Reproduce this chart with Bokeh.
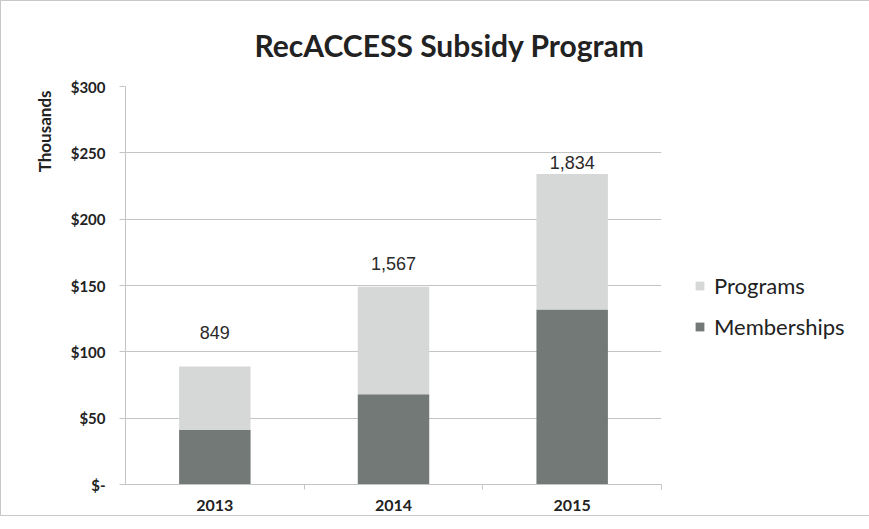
from bokeh.plotting import figure
from bokeh.models import (ColumnDataSource, FactorRange, FixedTicker, Legend, LegendItem,
                          Title, Range1d, LinearAxis, CategoricalAxis)
from bokeh.embed import file_html
from bokeh.resources import INLINE
from bokeh.core.properties import value

# ---- data (values in thousands of dollars) ----
years = ["2013", "2014", "2015"]
memberships = [41, 68, 132]
programs = [48, 81, 102]
participants = ["849", "1,567", "1,834"]
y_ticks = [0, 50, 100, 150, 200, 250, 300]
y_tick_labels = ["$-", "$50", "$100", "$150", "$200", "$250", "$300"]

# layout-only constants
label_offsets_px = [-34, -23, -12]

CAL = "Lato"
MEM_COLOR = "#737977"
PRO_COLOR = "#d6d8d7"
GRID = "#c4c4c4"

totals = [m + p for m, p in zip(memberships, programs)]
src = ColumnDataSource(dict(years=years, Memberships=memberships, Programs=programs,
                            total=totals, lbl=participants, yoff=label_offsets_px))

p = figure(frame_width=536, frame_height=398, x_range=FactorRange(*years), y_range=Range1d(0, 300),
           output_backend="svg", toolbar_location=None, x_axis_location=None,
           min_border_left=124, min_border_right=193, min_border_top=84, min_border_bottom=31)
p.styles = {"border": "1px solid #c8c8c8", "box-sizing": "border-box"}

rs = p.vbar_stack(["Memberships", "Programs"], x="years", width=0.40, source=src,
                  color=[MEM_COLOR, PRO_COLOR], line_color=None)

p.text(x="years", y="total", text="lbl", source=src, y_offset="yoff",
       text_align="center", text_baseline="middle", text_font=value("Liberation Sans"),
       text_font_size="18px", text_color="#2a2a2a")

# invisible spacer renderer for legend vertical placement
spacer = p.scatter(x=[], y=[], size=0, fill_alpha=0, line_alpha=0)

# title
p.title.text = "RecACCESS Subsidy Program"
p.title.align = "left"
p.title.offset = 129
p.title.text_font = CAL
p.title.text_font_size = "30px"
p.title.text_font_style = "bold"
p.title.text_color = "#222222"
p.title.standoff = 47

# y axis
p.yaxis.ticker = FixedTicker(ticks=y_ticks)
p.yaxis.major_label_overrides = {t: l for t, l in zip(y_ticks, y_tick_labels)}
p.yaxis.major_label_text_font = CAL
p.yaxis.major_label_text_font_size = "15px"
p.yaxis.major_label_text_font_style = "bold"
p.yaxis.major_label_text_color = "#222222"
p.yaxis.axis_line_color = GRID
p.yaxis.major_tick_line_color = GRID
p.yaxis.major_tick_out = 6
p.yaxis.major_tick_in = 0
p.yaxis.minor_tick_line_color = None
p.yaxis.major_label_standoff = 14

p.add_layout(Title(text="Thousands", align="right", offset=4, text_font=CAL,
                   text_font_size="17px", text_font_style="bold", text_color="#222222",
                   standoff=26), "left")

# x axis: boundary ticks between categories (synthetic coords 1, 2, 3), then category labels
bounds = list(range(1, len(years) + 1))
bound_axis = LinearAxis(ticker=FixedTicker(ticks=bounds),
                        major_label_overrides={i: "" for i in bounds},
                        major_label_text_font_size="1px", major_label_standoff=0,
                        axis_line_color=GRID, major_tick_line_color=GRID,
                        major_tick_out=5, major_tick_in=0, minor_tick_line_color=None)
p.add_layout(bound_axis, "below")

cat_axis = CategoricalAxis(major_label_text_font=CAL, major_label_text_font_size="16px",
                           major_label_text_font_style="bold", major_label_text_color="#222222",
                           axis_line_color=None, major_tick_line_color=None,
                           major_label_standoff=4)
p.add_layout(cat_axis, "below")

p.xgrid.grid_line_color = None
p.ygrid.grid_line_color = GRID
p.outline_line_color = None

legend = Legend(items=[LegendItem(label=" ", renderers=[spacer]),
                       LegendItem(label="Programs", renderers=[rs[1]]),
                       LegendItem(label="Memberships", renderers=[rs[0]])],
                location="center_left", orientation="vertical",
                label_text_font=CAL, label_text_font_size="22px", label_text_color="#222222",
                glyph_width=11, glyph_height=11, label_height=30, spacing=11,
                label_standoff=9, padding=0, margin=33, border_line_color=None,
                background_fill_alpha=0)
p.add_layout(legend, "right")

open("out.html", "w").write(file_html(p, INLINE))
